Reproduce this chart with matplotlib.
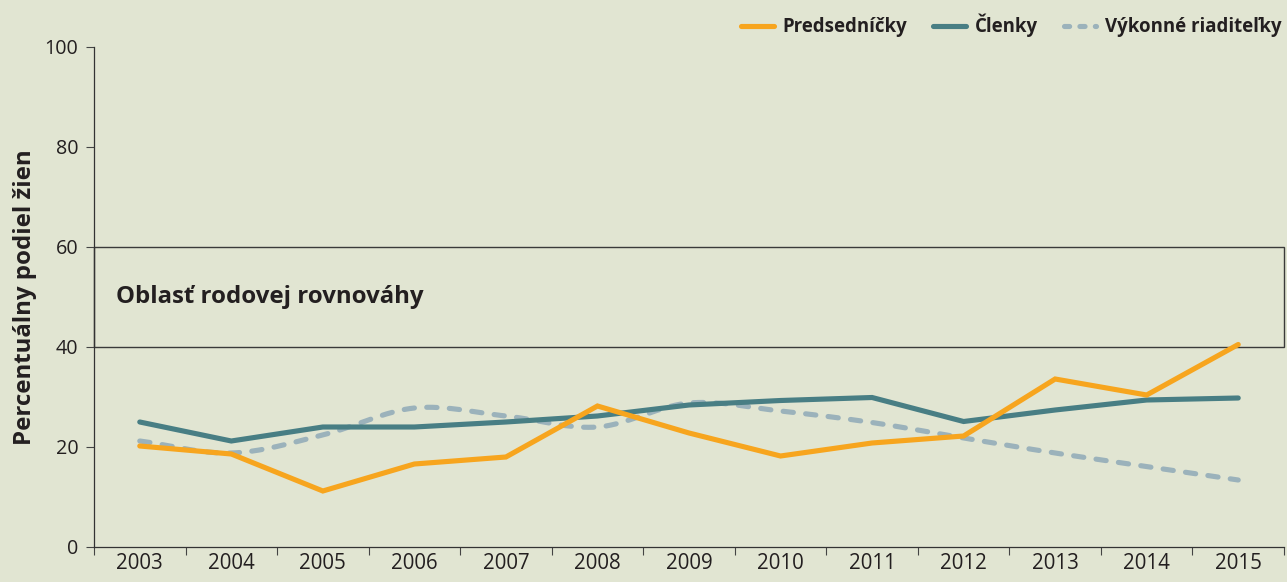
import numpy as np
import matplotlib
matplotlib.use("Agg")
import matplotlib.pyplot as plt
from matplotlib.patches import Rectangle
from matplotlib.lines import Line2D

years = ["2003", "2004", "2005", "2006", "2007", "2008", "2009", "2010", "2011", "2012", "2013", "2014", "2015"]
predsednicky = [20.2, 18.6, 11.2, 16.6, 18.0, 28.2, 22.8, 18.2, 20.8, 22.2, 33.6, 30.4, 40.5]
clenky = [25.0, 21.2, 24.0, 24.0, 25.0, 26.2, 28.4, 29.3, 29.9, 25.1, 27.4, 29.4, 29.8]
vykonne = [21.2, 18.8, 22.4, 27.8, 26.2, 24.0, 28.8, 27.2, 24.9, 21.8, 18.8, 16.1, 13.4]
yticks = [0, 20, 40, 60, 80, 100]

BG = "#E1E5D2"
ORANGE = "#F7A51E"
TEAL = "#487E84"
GREY = "#9BB2BB"
DARK = "#231F20"
FONT = ["Open Sans", "DejaVu Sans"]

plt.rcParams["font.family"] = FONT

fig = plt.figure(figsize=(12.87, 5.82), dpi=100, facecolor=BG)
ax = fig.add_axes([94 / 1287, 1 - 547 / 582, (1284 - 94) / 1287, 500 / 582])
ax.set_facecolor(BG)

x = np.arange(len(years))

def smooth(xs, ys, n=20):
    # Catmull-Rom rendering of the polyline (drawing only)
    xs = np.asarray(xs, float); ys = np.asarray(ys, float)
    px = np.concatenate([[2 * xs[0] - xs[1]], xs, [2 * xs[-1] - xs[-2]]])
    py = np.concatenate([[2 * ys[0] - ys[1]], ys, [2 * ys[-1] - ys[-2]]])
    ox, oy = [], []
    for i in range(1, len(px) - 2):
        t = np.linspace(0, 1, n, endpoint=False)
        for arr, out in ((px, ox), (py, oy)):
            p0, p1, p2, p3 = arr[i - 1], arr[i], arr[i + 1], arr[i + 2]
            out.extend(0.5 * ((2 * p1) + (-p0 + p2) * t + (2 * p0 - 5 * p1 + 4 * p2 - p3) * t ** 2
                              + (-p0 + 3 * p1 - 3 * p2 + p3) * t ** 3))
    ox.append(xs[-1]); oy.append(ys[-1])
    return ox, oy

ax.add_patch(Rectangle((-0.5, 40), 13, 20, facecolor="none", edgecolor="#3a3a3a", lw=1.0, zorder=1, clip_on=False))
ax.text(-0.26, 50, "Oblasť rodovej rovnováhy", fontsize=17.3, fontweight="bold", color=DARK, va="center", ha="left")

sx, sy = smooth(x, vykonne)
ax.plot(sx, sy, color=GREY, lw=3.7, linestyle=(0, (2.0, 2.4)), dash_capstyle="round", zorder=3)
ax.plot(x, clenky, color=TEAL, lw=3.7, solid_capstyle="round", solid_joinstyle="miter", zorder=4)
ax.plot(x, predsednicky, color=ORANGE, lw=3.7, solid_capstyle="round", solid_joinstyle="miter", zorder=5)

ax.set_xlim(-0.5, 12.5)
ax.set_ylim(0, 100)
ax.set_yticks(yticks)
ax.set_yticklabels([str(v) for v in yticks], fontsize=14.2, color=DARK)
ax.set_xticks(np.arange(-0.5, 13.0, 1.0))
ax.set_xticklabels([])
ax.set_xticks(x, minor=True)
ax.set_xticklabels(years, minor=True, fontsize=14.8, color=DARK)
ax.tick_params(axis="x", which="major", direction="out", length=6, width=0.8, color="#444444")
ax.tick_params(axis="x", which="minor", length=0, pad=4.5)
ax.tick_params(axis="y", direction="out", length=5.8, width=0.8, color="#444444", pad=5.5)
for s in ["top", "right"]:
    ax.spines[s].set_visible(False)
for s in ["left", "bottom"]:
    ax.spines[s].set_color("#333333")
    ax.spines[s].set_linewidth(0.9)

ax.set_ylabel("Percentuálny podiel žien", fontsize=17.3, fontweight="bold", color=DARK)
ax.yaxis.set_label_coords(-(94 - 37) / 1190, 0.5)

handles = [
    Line2D([], [], color=ORANGE, lw=3.7, solid_capstyle="round"),
    Line2D([], [], color=TEAL, lw=3.7, solid_capstyle="round"),
    Line2D([], [], color=GREY, lw=3.7, linestyle=(0, (1.0, 2.0)), dash_capstyle="round"),
]
labels = ["Predsedníčky", "Členky", "Výkonné riaditeľky"]
leg = fig.legend(handles, labels, loc="upper right", bbox_to_anchor=(1.0087, 1.005), ncol=3, frameon=False,
                 prop={"family": FONT, "weight": "bold", "size": 13.4}, handlelength=1.76, handletextpad=0.45,
                 columnspacing=1.4)
for t in leg.get_texts():
    t.set_color(DARK)

fig.savefig("out.png", dpi=100, facecolor=BG)
